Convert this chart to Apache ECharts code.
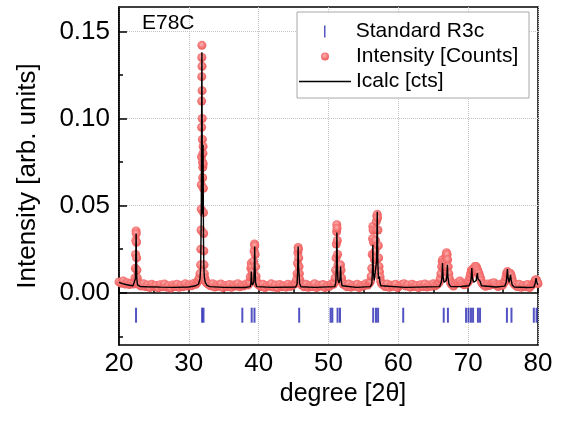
<!DOCTYPE html>
<html>
<head>
<meta charset="utf-8">
<script src="https://cdn.jsdelivr.net/npm/echarts@6/dist/echarts.min.js"></script>
<style>
    html, body { margin: 0; padding: 0; background: #fff; }
    #divXrdChart { width: 561px; height: 422px; }
</style>
</head>
<body>
<div id="divXrdChart"></div>
<script>
// 字体
var cFont = 'Liberation Sans, Arial, sans-serif';

// y 轴刻度
var adYLabel = [0, 0.05, 0.10, 0.15];
var adYMinor = [-0.025, 0.025, 0.075, 0.125];

// 标准卡片 R3c 的衍射峰位置 (2θ)
var adStdPeak = [22.44, 31.9, 32.1, 37.66, 39.0, 39.4, 45.8, 50.3, 50.55, 51.3, 51.65,
    56.4, 56.8, 57.1, 60.7, 66.5, 67.1, 69.7, 70.05, 70.4, 70.7, 71.4, 71.7,
    75.55, 76.2, 79.4, 79.8];

// 实测强度 [2θ, 强度]
var aoObs = [
    [20.0, .0062], [20.3, .0055], [20.6, .0068], [20.9, .0050], [21.2, .0058], [21.5, .0047], [21.8, .0055],
    [22.1, .0050], [22.2, .0060], [22.28, .0085], [22.34, .014], [22.38, .022], [22.41, .030], [22.44, .0355],
    [22.47, .034], [22.50, .029], [22.53, .020], [22.57, .013], [22.62, .0085], [22.70, .0062], [22.80, .0052],
    [22.9, .0045], [23.2, .0038], [23.5, .0052], [23.8, .0035], [24.1, .0044], [24.4, .0030], [24.7, .0048],
    [25.0, .0036], [25.3, .0042], [25.6, .0028], [25.9, .0046], [26.2, .0034], [26.5, .0050], [26.8, .0032],
    [27.1, .0040], [27.4, .0027], [27.7, .0045], [28.0, .0036], [28.3, .0049], [28.6, .0031], [28.9, .0043],
    [29.2, .0035], [29.5, .0051], [29.8, .0038], [30.1, .0046], [30.4, .0040], [30.7, .0053], [31.0, .0048],
    [31.2, .0060], [31.35, .0070], [31.5, .0085], [31.6, .011], [31.68, .016], [31.72, .025], [31.75, .036],
    [31.77, .048], [31.79, .062], [31.81, .078], [31.83, .095], [31.84, .110], [31.85, .124], [31.86, .135],
    [31.87, .142], [31.89, .130], [31.90, .116], [31.92, .100], [31.94, .088], [31.96, .075], [31.98, .066],
    [32.00, .072], [32.02, .080], [32.04, .084], [32.06, .074], [32.08, .060], [32.10, .046], [32.12, .034],
    [32.15, .024], [32.18, .016], [32.22, .011], [32.28, .0085], [32.36, .0070], [32.48, .0060], [32.6, .0055],
    [32.8, .0048], [33.1, .0040], [33.4, .0052], [33.7, .0033], [34.0, .0045], [34.3, .0037], [34.6, .0050],
    [34.9, .0029], [35.2, .0042], [35.5, .0035], [35.8, .0047], [36.1, .0031], [36.4, .0044], [36.7, .0038],
    [37.0, .0052], [37.3, .0034], [37.6, .0043], [37.9, .0039], [38.2, .0050], [38.5, .0045],
    [38.7, .0060], [38.8, .0090], [38.88, .0140], [38.94, .0170], [39.00, .0150], [39.06, .0110], [39.12, .0095],
    [39.20, .0120], [39.28, .0180], [39.34, .0240], [39.40, .0280], [39.45, .0270], [39.50, .0220], [39.56, .0150],
    [39.62, .0095], [39.70, .0065], [39.8, .0052],
    [40.0, .0046], [40.3, .0036], [40.6, .0049], [40.9, .0030], [41.2, .0042], [41.5, .0037], [41.8, .0051],
    [42.1, .0033], [42.4, .0044], [42.7, .0028], [43.0, .0047], [43.3, .0035], [43.6, .0040], [43.9, .0032],
    [44.2, .0049], [44.5, .0036], [44.8, .0043], [45.1, .0050],
    [45.3, .0055], [45.42, .0075], [45.5, .011], [45.56, .017], [45.61, .023], [45.65, .026], [45.69, .025],
    [45.73, .020], [45.78, .015], [45.83, .011], [45.9, .0075], [46.0, .0055],
    [46.2, .0044], [46.5, .0034], [46.8, .0048], [47.1, .0031], [47.4, .0040], [47.7, .0036], [48.0, .0052],
    [48.3, .0030], [48.6, .0043], [48.9, .0038], [49.2, .0047], [49.5, .0029], [49.8, .0041], [50.1, .0036],
    [50.4, .0050], [50.7, .0048],
    [50.85, .0060], [50.95, .0085], [51.02, .013], [51.08, .020], [51.12, .028], [51.16, .035], [51.19, .039],
    [51.22, .037], [51.26, .030], [51.30, .022], [51.35, .016], [51.42, .011], [51.50, .0095], [51.58, .011],
    [51.65, .014], [51.72, .016], [51.80, .013], [51.88, .0085], [51.98, .0060], [52.1, .0050],
    [52.3, .0045], [52.6, .0035], [52.9, .0050], [53.2, .0032], [53.5, .0043], [53.8, .0037], [54.1, .0049],
    [54.4, .0030], [54.7, .0042], [55.0, .0038], [55.3, .0051], [55.6, .0044], [55.85, .0055],
    [56.0, .0065], [56.12, .0095], [56.2, .014], [56.26, .022], [56.31, .031], [56.35, .038], [56.39, .036],
    [56.44, .029], [56.50, .022], [56.56, .019], [56.62, .020], [56.68, .024], [56.74, .030], [56.80, .036],
    [56.86, .041], [56.92, .044], [56.98, .045], [57.03, .043], [57.08, .036], [57.13, .027], [57.18, .020],
    [57.24, .015], [57.30, .012], [57.38, .0090], [57.48, .0065], [57.6, .0052],
    [57.8, .0046], [58.1, .0036], [58.4, .0050], [58.7, .0031], [59.0, .0043], [59.3, .0037], [59.6, .0049],
    [59.9, .0029], [60.2, .0041], [60.5, .0047], [60.8, .0052], [61.1, .0038], [61.4, .0045], [61.7, .0032],
    [62.0, .0049], [62.3, .0036], [62.6, .0042], [62.9, .0030], [63.2, .0046], [63.5, .0035], [63.8, .0050],
    [64.1, .0033], [64.4, .0044], [64.7, .0037], [65.0, .0051], [65.3, .0040], [65.6, .0048],
    [65.85, .0060], [66.0, .0080], [66.1, .011], [66.2, .015], [66.28, .018], [66.35, .019], [66.42, .017],
    [66.5, .014], [66.58, .013], [66.66, .015], [66.74, .018], [66.82, .021], [66.9, .023], [66.98, .022],
    [67.06, .019], [67.14, .015], [67.22, .011], [67.32, .0080], [67.45, .0060],
    [67.6, .0048], [67.9, .0038], [68.2, .0052], [68.5, .0058], [68.8, .0068], [69.1, .0055], [69.4, .0046],
    [69.7, .0050], [69.95, .0060],
    [70.1, .0070], [70.25, .0090], [70.35, .011], [70.45, .013], [70.55, .013], [70.65, .012], [70.75, .013],
    [70.85, .014], [70.95, .015], [71.05, .015], [71.15, .015], [71.25, .014], [71.35, .013], [71.45, .012],
    [71.55, .011], [71.65, .0095], [71.75, .0085], [71.85, .0070], [72.0, .0055],
    [72.2, .0046], [72.5, .0037], [72.8, .0050], [73.1, .0042], [73.4, .0055], [73.7, .0058], [74.0, .0044],
    [74.3, .0036], [74.6, .0049], [74.9, .0042], [75.15, .0058],
    [75.3, .0070], [75.42, .0090], [75.5, .011], [75.58, .012], [75.66, .012], [75.74, .011], [75.82, .010],
    [75.9, .010], [75.98, .011], [76.06, .011], [76.14, .010], [76.24, .0085], [76.36, .0065], [76.5, .0055],
    [76.7, .0045], [77.0, .0036], [77.3, .0048], [77.6, .0031], [77.9, .0042], [78.2, .0035], [78.5, .0047],
    [78.8, .0030], [79.1, .0044], [79.35, .0052],
    [79.5, .0060], [79.6, .0072], [79.7, .0075], [79.8, .0070], [79.9, .0060], [80.0, .0052]
];

// 计算强度 [2θ, 强度]
var aoCalc = [
    [20.0, .0060], [20.5, .0052], [21.0, .0047], [21.5, .0043], [22.0, .0040], [22.25, .0045], [22.35, .0080],
    [22.40, .020], [22.45, .034], [22.50, .020], [22.55, .0080], [22.65, .0045], [23.0, .0036], [24.0, .0034],
    [26.0, .0032], [28.0, .0031], [30.0, .0033], [31.0, .0040], [31.4, .0050], [31.6, .0080], [31.7, .015],
    [31.78, .045], [31.84, .110], [31.87, .138], [31.90, .100], [31.94, .060], [31.98, .045], [32.02, .070],
    [32.04, .085], [32.07, .055], [32.10, .030], [32.15, .015], [32.22, .0090], [32.35, .0060], [32.6, .0042],
    [33.0, .0035], [35.0, .0031], [38.0, .0030], [38.80, .0035], [38.90, .0060], [38.95, .0122], [39.00, .0065],
    [39.10, .0045], [39.30, .0060], [39.38, .0150], [39.43, .0265], [39.48, .0150], [39.55, .0060], [39.7, .0035],
    [42.0, .0031], [45.3, .0033], [45.5, .0050], [45.58, .012], [45.65, .0265], [45.72, .014], [45.78, .011],
    [45.86, .0055], [46.05, .0034], [48.0, .0031], [50.9, .0035], [51.05, .0060], [51.13, .015], [51.20, .0345],
    [51.27, .015], [51.35, .0075], [51.5, .0055], [51.65, .0080], [51.73, .015], [51.80, .0075], [51.95, .0040],
    [52.15, .0032], [54.0, .0031], [56.0, .0035], [56.2, .0050], [56.29, .012], [56.35, .0276], [56.42, .012],
    [56.55, .0070], [56.75, .0080], [56.88, .018], [56.98, .0465], [57.06, .018], [57.15, .0080], [57.24, .0070],
    [57.30, .0094], [57.36, .0060], [57.5, .0040], [57.7, .0032], [61.0, .0031], [65.9, .0035], [66.15, .0060],
    [66.25, .0090], [66.33, .017], [66.40, .0090], [66.55, .0060], [66.85, .0070], [66.95, .010], [67.03, .016],
    [67.10, .0090], [67.25, .0050], [67.5, .0035], [69.0, .0036], [70.1, .0040], [70.35, .0060], [70.45, .0090],
    [70.52, .0142], [70.60, .0085], [70.8, .0060], [71.0, .0060], [71.15, .0070], [71.25, .010], [71.32, .0113],
    [71.40, .0080], [71.55, .0070], [71.65, .0086], [71.72, .0065], [71.9, .0040], [72.1, .0034], [74.0, .0033],
    [75.25, .0038], [75.45, .0060], [75.55, .010], [75.62, .0136], [75.70, .0090], [75.85, .0060], [76.0, .0065],
    [76.08, .0103], [76.15, .0075], [76.3, .0045], [76.6, .0033], [78.5, .0030], [79.4, .0032], [79.6, .0055],
    [79.72, .0084], [79.82, .0060], [80.0, .0045]
];

var oChart = echarts.init(document.getElementById('divXrdChart'));

// 标准峰位置画在 y = -0.0129 处
var aoStd = [];
for (var i = 0; i < adStdPeak.length; i++) {
    aoStd.push([adStdPeak[i], -0.0129]);
}

// 红色实测点的球形渐变
var oBallColor = {
    type: 'radial', x: 0.45, y: 0.4, r: 0.6,
    colorStops: [
        { offset: 0, color: '#fcb0b0' },
        { offset: 0.6, color: '#f47070' },
        { offset: 1, color: '#ec5454' }
    ]
};

var oLegendText = { fontSize: 21, color: '#000', fontFamily: cFont };

var oOption = {
    animation: false,
    backgroundColor: '#fff',
    textStyle: { fontFamily: cFont },
    grid: {
        left: 119, right: 23, top: 7, bottom: 77,
        show: true, borderColor: '#000', borderWidth: 1.5
    },
    // 图例的 left 按图标包围盒计算, 让三个图标中心都落在 x = 325
    legend: [
        {
            data: [{ name: 'Standard R3c', icon: 'path://M0,0H1V8H0Z' }],
            left: 324, top: 21, padding: 0, itemWidth: 52, itemHeight: 12,
            textStyle: oLegendText
        },
        {
            data: [{ name: 'Intensity [Counts]', icon: 'circle' }],
            left: 321, top: 46, padding: 0, itemWidth: 52, itemHeight: 8,
            textStyle: oLegendText
        },
        {
            data: [{ name: 'Icalc [cts]', icon: 'path://M0,0H52V1.3H0Z' }],
            left: 299, top: 71, padding: 0, itemWidth: 52, itemHeight: 12,
            textStyle: oLegendText
        }
    ],
    graphic: [
        {
            type: 'rect', z: 1,
            shape: { x: 297, y: 12, width: 232, height: 86 },
            style: { fill: '#fff', stroke: '#a8a8a8', lineWidth: 1 }
        },
        {
            type: 'text', left: 142, top: 13, z: 5,
            style: { text: 'E78C', font: '21px ' + cFont, fill: '#000' }
        }
    ],
    xAxis: {
        type: 'value',
        min: 20, max: 80, interval: 10,
        name: 'degree [2θ]',
        nameLocation: 'middle',
        nameGap: 34,
        nameTextStyle: { fontSize: 25, color: '#000', padding: [0, 0, 0, 29] },
        axisLine: { lineStyle: { color: '#000', width: 1.5 } },
        axisTick: { inside: true, length: 8, lineStyle: { color: '#000', width: 1.5 } },
        minorTick: { show: true, splitNumber: 2, length: 4, lineStyle: { color: '#000', width: 1.5 } },
        axisLabel: { fontSize: 26, color: '#000', margin: 6 },
        splitLine: { show: true, lineStyle: { color: '#c4c4c4', type: 'dotted', width: 1 } }
    },
    yAxis: [
        {
            type: 'value',
            position: 'left',
            min: -0.03, max: 0.164, splitNumber: 4,
            name: 'Intensity [arb. units]',
            nameLocation: 'middle',
            nameGap: 78,
            nameTextStyle: { fontSize: 26, color: '#000' },
            axisLine: { show: true, lineStyle: { color: '#000', width: 1.5 } },
            axisTick: { inside: true, length: 8, customValues: adYLabel, lineStyle: { color: '#000', width: 1.5 } },
            axisLabel: {
                fontSize: 26, color: '#000', margin: 9, customValues: adYLabel,
                formatter: function (v) { return v.toFixed(2); }
            },
            splitLine: { show: true, lineStyle: { color: '#c4c4c4', type: 'dotted', width: 1 } }
        },
        {
            // 次刻度
            type: 'value',
            position: 'left',
            min: -0.03, max: 0.164,
            axisLine: { show: false },
            axisTick: { show: true, inside: true, length: 4, customValues: adYMinor, lineStyle: { color: '#000', width: 1.5 } },
            axisLabel: { show: false },
            splitLine: { show: false }
        }
    ],
    series: [
        {
            name: 'Standard R3c',
            type: 'scatter',
            symbol: 'rect',
            symbolSize: [2, 15],
            itemStyle: { color: '#2828b4' },
            data: aoStd,
            z: 2
        },
        {
            name: 'Intensity [Counts]',
            type: 'scatter',
            symbol: 'circle',
            symbolSize: 9,
            itemStyle: { color: oBallColor, opacity: 0.95 },
            data: aoObs,
            z: 2
        },
        {
            name: 'Icalc [cts]',
            type: 'line',
            symbol: 'none',
            lineStyle: { color: '#000', width: 1.4 },
            itemStyle: { color: '#000' },
            data: aoCalc,
            z: 3
        }
    ]
};

oChart.setOption(oOption, true);
</script>
</body>
</html>
